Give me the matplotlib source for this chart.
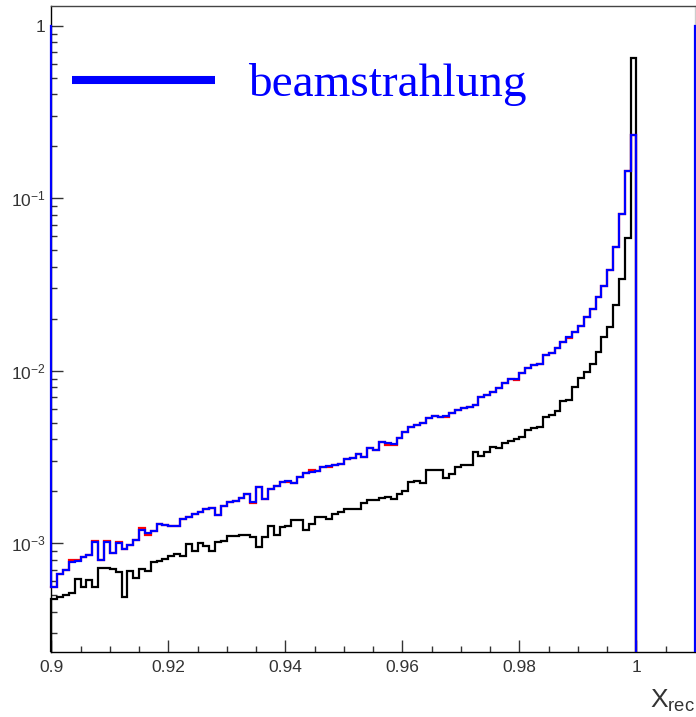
import numpy as np
import matplotlib
matplotlib.use("Agg")
import matplotlib.pyplot as plt
from matplotlib.lines import Line2D
from matplotlib.patches import Rectangle
from matplotlib.ticker import FixedLocator, MultipleLocator, NullFormatter

# ---------------- data ----------------
x_start = 0.9
x_stop = 1.01
bin_width = 0.001

black_vals = [
    4.73e-4, 4.86e-4, 5.01e-4, 5.16e-4, 6.18e-4, 5.55e-4, 6.12e-4, 5.60e-4, 7.21e-4, 7.21e-4,
    7.06e-4, 6.84e-4, 4.86e-4, 6.90e-4, 6.26e-4, 7.06e-4, 6.90e-4, 7.81e-4, 7.92e-4, 8.10e-4,
    8.46e-4, 8.62e-4, 8.43e-4, 9.85e-4, 9.01e-4, 9.99e-4, 9.63e-4, 9.01e-4, 1.02e-3, 1.03e-3,
    1.10e-3, 1.10e-3, 1.12e-3, 1.12e-3, 1.08e-3, 9.54e-4, 1.09e-3, 1.26e-3, 1.12e-3, 1.24e-3,
    1.26e-3, 1.36e-3, 1.36e-3, 1.19e-3, 1.30e-3, 1.42e-3, 1.41e-3, 1.39e-3, 1.48e-3, 1.52e-3,
    1.57e-3, 1.57e-3, 1.57e-3, 1.72e-3, 1.78e-3, 1.78e-3, 1.82e-3, 1.85e-3, 1.80e-3, 1.93e-3,
    2.02e-3, 2.27e-3, 2.30e-3, 2.24e-3, 2.66e-3, 2.66e-3, 2.66e-3, 2.38e-3, 2.52e-3, 2.78e-3,
    2.84e-3, 2.84e-3, 3.38e-3, 3.20e-3, 3.39e-3, 3.63e-3, 3.55e-3, 3.83e-3, 3.93e-3, 4.00e-3,
    4.11e-3, 4.53e-3, 4.65e-3, 4.74e-3, 5.37e-3, 5.54e-3, 5.86e-3, 6.67e-3, 6.76e-3, 8.08e-3,
    9.04e-3, 9.87e-3, 1.09e-2, 1.28e-2, 1.56e-2, 1.80e-2, 2.40e-2, 3.40e-2, 5.88e-2, 0.647,
    0, 0, 0, 0, 0, 0, 0, 0, 0, 0,
]

blue_vals = [
    5.60e-4, 6.63e-4, 6.99e-4, 7.81e-4, 7.88e-4, 8.35e-4, 8.54e-4, 1.02e-3, 7.99e-4, 1.02e-3,
    8.81e-4, 1.007e-3, 9.22e-4, 9.76e-4, 1.04e-3, 1.20e-3, 1.14e-3, 1.17e-3, 1.29e-3, 1.27e-3,
    1.26e-3, 1.26e-3, 1.39e-3, 1.42e-3, 1.47e-3, 1.52e-3, 1.57e-3, 1.61e-3, 1.46e-3, 1.64e-3,
    1.74e-3, 1.76e-3, 1.82e-3, 1.93e-3, 1.74e-3, 2.13e-3, 1.80e-3, 2.06e-3, 2.15e-3, 2.26e-3,
    2.30e-3, 2.24e-3, 2.41e-3, 2.56e-3, 2.60e-3, 2.63e-3, 2.75e-3, 2.80e-3, 2.83e-3, 2.88e-3,
    3.06e-3, 3.13e-3, 3.29e-3, 3.17e-3, 3.55e-3, 3.47e-3, 3.88e-3, 3.80e-3, 3.76e-3, 4.09e-3,
    4.43e-3, 4.70e-3, 4.84e-3, 4.96e-3, 5.32e-3, 5.46e-3, 5.37e-3, 5.48e-3, 5.66e-3, 5.92e-3,
    6.05e-3, 6.18e-3, 6.33e-3, 7.07e-3, 7.23e-3, 7.56e-3, 7.91e-3, 8.45e-3, 8.92e-3, 8.92e-3,
    9.66e-3, 1.03e-2, 1.08e-2, 1.09e-2, 1.23e-2, 1.27e-2, 1.35e-2, 1.47e-2, 1.56e-2, 1.68e-2,
    1.82e-2, 2.06e-2, 2.27e-2, 2.67e-2, 3.10e-2, 3.84e-2, 5.23e-2, 8.10e-2, 0.144, 0.232,
    0, 0, 0, 0, 0, 0, 0, 0, 0, 0,
]

red_vals = [
    5.60e-4, 6.63e-4, 6.99e-4, 7.95e-4, 8.00e-4, 8.35e-4, 8.54e-4, 1.03e-3, 7.99e-4, 1.03e-3,
    8.81e-4, 1.015e-3, 9.22e-4, 9.76e-4, 1.04e-3, 1.22e-3, 1.12e-3, 1.17e-3, 1.29e-3, 1.27e-3,
    1.26e-3, 1.26e-3, 1.39e-3, 1.42e-3, 1.47e-3, 1.52e-3, 1.57e-3, 1.61e-3, 1.46e-3, 1.64e-3,
    1.74e-3, 1.76e-3, 1.82e-3, 1.93e-3, 1.71e-3, 2.13e-3, 1.80e-3, 2.06e-3, 2.15e-3, 2.26e-3,
    2.25e-3, 2.24e-3, 2.41e-3, 2.56e-3, 2.64e-3, 2.63e-3, 2.75e-3, 2.77e-3, 2.83e-3, 2.88e-3,
    3.06e-3, 3.10e-3, 3.29e-3, 3.17e-3, 3.55e-3, 3.47e-3, 3.88e-3, 3.72e-3, 3.72e-3, 4.09e-3,
    4.40e-3, 4.70e-3, 4.84e-3, 4.96e-3, 5.32e-3, 5.46e-3, 5.37e-3, 5.42e-3, 5.66e-3, 5.92e-3,
    6.05e-3, 6.18e-3, 6.33e-3, 7.07e-3, 7.23e-3, 7.56e-3, 7.91e-3, 8.45e-3, 8.92e-3, 8.84e-3,
    9.66e-3, 1.03e-2, 1.08e-2, 1.09e-2, 1.23e-2, 1.27e-2, 1.35e-2, 1.47e-2, 1.55e-2, 1.68e-2,
    1.82e-2, 2.06e-2, 2.27e-2, 2.67e-2, 3.10e-2, 3.84e-2, 5.23e-2, 8.10e-2, 0.144, 0.232,
    0, 0, 0, 0, 0, 0, 0, 0, 0, 0,
]

blue_edge_level = 1.0
y_range = (2.35e-4, 1.30)

x_major_ticks = [0.9, 0.92, 0.94, 0.96, 0.98, 1.0]
x_tick_labels = ["0.9", "0.92", "0.94", "0.96", "0.98", "1"]
y_major_ticks = [1e-3, 1e-2, 1e-1, 1.0]
y_tick_labels = [r"$\mathregular{10^{-3}}$", r"$\mathregular{10^{-2}}$",
                 r"$\mathregular{10^{-1}}$", "1"]
legend_label = "beamstrahlung"
x_axis_label = r"$\mathregular{X_{rec}}$"

colors = {"black": "#000000", "red": "#ff0000", "blue": "#0000ff"}

# ---------------- figure ----------------
plt.rcParams["font.family"] = ["Liberation Sans", "DejaVu Sans"]
plt.rcParams["mathtext.default"] = "regular"

W, H = 696, 717
fig = plt.figure(figsize=(W / 100, H / 100), dpi=100)
ax = fig.add_axes([51.3 / W, 1 - 651.7 / H, (695 - 51.3) / W, (651.7 - 6) / H])

n_bins = len(black_vals)
edges = x_start + bin_width * np.arange(n_bins + 1)
floor = y_range[0] * 0.3


def outline(vals, start, end):
    """Step outline of a histogram; start/end = level of the outer edges
    (None: no vertical edge on that side)."""
    v = np.asarray(vals, dtype=float)
    v = np.where(v > 0, v, floor)
    xs = np.repeat(edges, 2)
    ys = np.concatenate([[v[0] if start is None else start], np.repeat(v, 2),
                         [v[-1] if end is None else end]])
    return xs, ys


# clip region: the axes box, widened a little sideways so edge lines show fully
clip_rect = Rectangle((-0.01, 0.0), 1.02, 1.0, transform=ax.transAxes,
                      facecolor="none", edgecolor="none")
ax.add_patch(clip_rect)

lw = 1.6
series = [
    ("black", black_vals, floor, floor, 3),
    ("red", red_vals, None, floor, 4),
    ("blue", blue_vals, blue_edge_level, blue_edge_level, 5),
]
for key, vals, start, end, z in series:
    xs, ys = outline(vals, start, end)
    ln, = ax.plot(xs, ys, color=colors[key], lw=lw, solid_joinstyle="miter", zorder=z)
    ln.set_clip_path(clip_rect)

ax.set_yscale("log")
ax.set_xlim(x_start, x_stop)
ax.set_ylim(*y_range)

ax.xaxis.set_major_locator(FixedLocator(x_major_ticks))
ax.set_xticklabels(x_tick_labels)
ax.xaxis.set_minor_locator(MultipleLocator(0.005))
ax.yaxis.set_major_locator(FixedLocator(y_major_ticks))
ax.set_yticklabels(y_tick_labels)
minor_y = [m * 10.0 ** e for e in range(-4, 1) for m in range(2, 10)]
ax.yaxis.set_minor_locator(FixedLocator(minor_y))
ax.yaxis.set_minor_formatter(NullFormatter())

ax.tick_params(which="both", direction="in", top=False, right=False,
               colors="#333333", labelcolor="#333333", labelsize=12.5)
ax.tick_params(which="major", length=8.6, width=1.0)
ax.tick_params(which="minor", length=4.3, width=1.0)
ax.tick_params(axis="x", which="major", pad=6)
ax.tick_params(axis="y", which="major", pad=4)

for s in ["left", "bottom"]:
    ax.spines[s].set_color("#000000")
    ax.spines[s].set_linewidth(1.0)
ax.spines["top"].set_color("#444444")
ax.spines["top"].set_linewidth(1.0)
ax.spines["right"].set_color("#cccccc")
ax.spines["right"].set_linewidth(1.0)

# legend
fig.add_artist(Line2D([72 / W, 215 / W], [1 - 80 / H, 1 - 80 / H],
                      transform=fig.transFigure, color=colors["blue"],
                      lw=5.8, solid_capstyle="butt"))
fig.text(248 / W, 1 - 96 / H, legend_label, family=["Liberation Serif", "DejaVu Serif"],
         fontsize=34, color=colors["blue"], va="baseline", ha="left")

fig.text(695 / W, 1 - 708 / H, x_axis_label, fontsize=19, color="#333333",
         ha="right", va="baseline")

fig.savefig("out.png", dpi=100)
